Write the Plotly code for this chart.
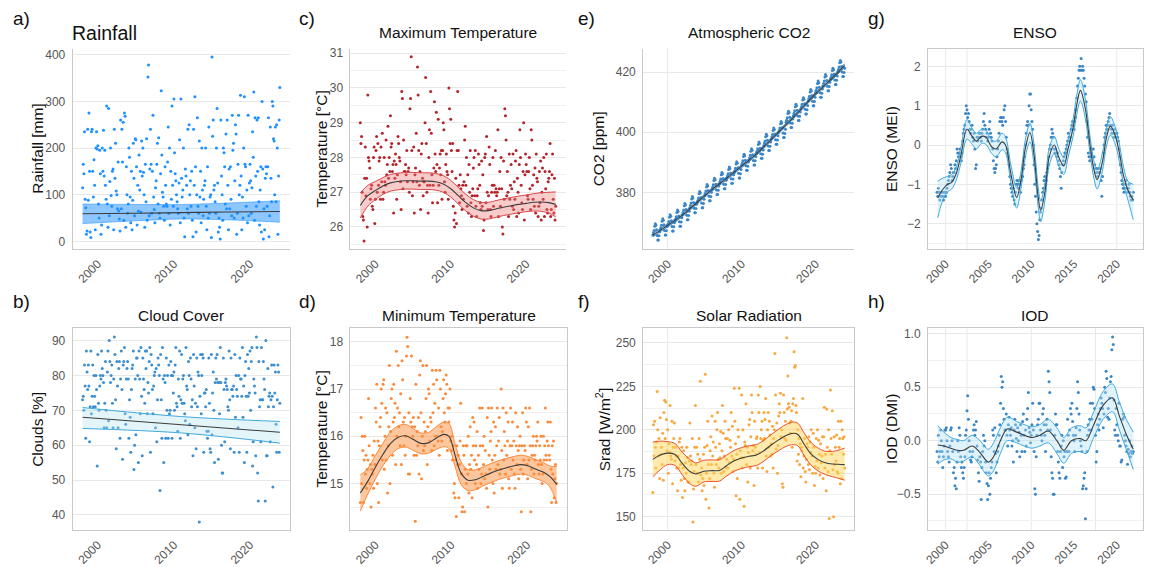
import plotly.graph_objects as go

W, H = 1149, 567
FONT = "Liberation Sans, Arial, sans-serif"

# ---------------------------------------------------------------- data
MONTHLY_START = 1998          # panels a-f: Jan 1998 .. Dec 2023
INDEX_START = 1999            # panels g-h: Jan 1999 .. Dec 2021

RAIN_BY_YEAR = [
    [115,165,145,235,90,72,15,22,240,88,275,150],
    [20,8,235,240,150,95,175,120,25,200,235,198],
    [205,80,50,195,145,15,35,200,150,238,140,195],
    [120,90,290,80,30,285,55,128,200,98,75,150],
    [155,25,240,135,210,108,100,70,170,65,48,22],
    [260,70,240,170,255,45,275,268,30,160,100,60],
    [80,200,180,95,40,150,25,88,210,135,55,220],
    [218,160,35,120,65,185,110,150,63,215,140,200],
    [148,100,30,165,85,220,45,352,378,55,155,240],
    [165,60,150,270,95,68,40,115,130,165,210,80],
    [222,60,50,145,323,185,105,95,75,45,160,120],
    [80,75,170,245,60,200,35,150,90,290,120,75],
    [305,190,145,130,100,85,70,60,125,218,40,305],
    [135,95,110,200,50,10,155,140,120,70,240,60],
    [250,100,130,75,150,45,10,240,120,310,160,20],
    [100,265,75,60,215,95,150,40,200,110,55,90],
    [120,130,200,75,25,160,50,245,60,95,100,8],
    [395,225,260,110,120,85,60,200,285,125,20,50],
    [30,5,260,140,100,45,200,190,160,80,230,70],
    [260,120,25,155,70,160,90,55,270,195,210,50],
    [130,250,230,15,60,165,270,100,120,313,140,25],
    [95,50,200,310,165,160,75,110,40,270,55,125],
    [165,130,60,115,235,180,320,45,265,140,75,260],
    [150,265,85,35,110,160,20,300,155,5,70,25],
    [135,160,145,75,160,265,10,55,245,135,85,300],
    [290,220,215,100,245,85,250,200,15,140,260,330],
]
RAIN_FIT_YEARS = [1998.0, 2005.0, 2011.0, 2017.0, 2023.92]
RAIN_FIT = [59, 60.2, 61.5, 62.8, 64]
RAIN_LO = [38, 44, 48, 46, 41]
RAIN_HI = [80, 79, 79, 82, 87]

CLOUD_BY_YEAR = [
    [73,74,70,83,77,62,87,81,76,83,77,61],
    [71,87,69,74,83,71,80,74,71,80,76,54],
    [86,72,70,77,80,79,87,82,80,78,65,72],
    [84,70,65,81,87,67,90,84,78,80,83,72],
    [65,79,91,86,73,59,84,77,65,82,84,62],
    [79,87,76,56,83,84,88,69,66,79,82,84],
    [79,62,73,68,58,76,82,83,87,53,60,79],
    [63,85,85,80,55,87,79,69,88,74,57,85],
    [79,76,72,87,82,87,69,78,75,84,88,58],
    [86,83,76,69,77,80,81,65,82,61,73,85],
    [83,80,47,86,73,62,88,79,55,80,78,62],
    [85,70,80,62,83,69,70,84,80,62,80,75],
    [81,70,83,88,72,71,64,79,74,87,62,73],
    [86,72,79,80,72,69,67,88,77,76,63,84],
    [80,66,85,79,71,73,57,86,77,65,72,59],
    [85,71,81,80,38,74,86,69,80,86,85,58],
    [75,75,71,76,64,62,64,85,72,59,58,86],
    [63,75,81,70,55,78,85,79,86,78,56,78],
    [69,88,78,60,52,52,85,76,61,78,79,77],
    [76,71,70,87,73,59,85,76,76,74,77,58],
    [86,68,80,76,74,65,80,58,85,79,79,74],
    [88,68,77,55,80,84,74,58,86,74,82,75],
    [87,70,84,88,54,61,79,77,75,57,91,88],
    [52,44,84,71,73,61,88,73,73,84,79,76],
    [44,90,57,57,82,71,74,75,61,73,83,74],
    [48,71,83,75,81,66,58,73,83,81,58,72],
]
CLOUD_FIT_YEARS = [1998.0, 2011.0, 2023.92]
CLOUD_FIT = [68.0, 65.85, 63.7]
CLOUD_LO = [64.8, 63.5, 60.6]
CLOUD_HI = [70.8, 68.2, 66.8]

TMAX_BY_YEAR = [
    [29.0,28.4,28.6,27.0,26.3,26.2,25.6,27.4,28.3,26.9,27.4,26.0],
    [29.8,28.0,27.9,27.7,26.8,27.1,27.2,26.6,26.5,28.0,28.3,26.1],
    [26.8,28.2,28.6,27.0,28.4,27.2,27.9,28.0,26.8,28.3,27.3,28.7],
    [26.8,27.0,28.0,27.3,27.2,28.5,27.5,27.8,28.9,27.4,28.0,27.6],
    [29.2,28.3,28.4,27.6,27.8,26.4,27.9,27.4,28.1,27.8,26.8,27.5],
    [28.6,28.4,28.0,27.9,27.3,26.5,29.9,29.7,27.1,28.5,27.6,27.6],
    [27.8,27.5,28.2,27.3,27.6,27.7,27.0,29.4,29.7,30.9,28.2,26.9],
    [27.3,28.3,26.4,27.5,27.7,28.7,27.3,30.6,29.8,28.2,27.2,27.6],
    [26.5,28.1,28.4,27.4,26.9,27.3,27.3,29.0,30.3,28.4,27.0,27.2],
    [26.4,28.0,28.8,27.2,29.9,28.7,27.5,26.7,27.2,27.7,29.6,28.1],
    [27.6,29.3,27.8,26.7,29.1,27.2,27.7,28.1,27.5,28.2,26.8,28.2],
    [29.0,28.8,27.3,27.0,27.8,28.1,27.6,27.5,26.8,30.0,29.4,28.4],
    [29.1,28.2,27.6,28.4,26.6,26.2,26.0,26.4,27.4,26.1,28.2,29.9],
    [28.2,27.2,26.7,27.5,27.1,26.9,26.5,27.2,26.8,27.3,28.5,28.9],
    [27.2,28.0,26.6,27.5,26.4,27.8,27.0,28.2,26.7,26.3,26.9,27.1],
    [27.7,28.0,26.9,28.2,26.6,26.3,26.9,27.1,28.1,27.8,27.2,26.7],
    [26.5,27.9,26.6,27.5,25.9,26.2,28.0,28.1,26.7,28.6,27.0,26.5],
    [26.9,28.3,27.8,26.5,26.3,27.0,27.2,28.0,26.6,27.2,27.0,28.2],
    [27.1,26.9,27.0,28.8,26.3,27.1,27.6,26.6,28.0,27.1,26.0,25.8],
    [27.9,26.8,29.4,29.2,28.5,26.9,27.6,27.0,26.3,28.1,26.8,27.2],
    [27.8,27.1,26.6,28.1,26.5,27.3,26.8,27.9,28.2,26.3,27.4,27.0],
    [26.4,27.8,28.8,28.0,27.2,26.7,26.5,27.6,29.0,26.2,27.5,28.1],
    [27.8,27.6,26.9,26.8,27.6,28.0,27.1,26.5,28.8,28.5,27.2,26.8],
    [27.5,26.6,27.7,26.4,28.1,27.4,27.3,26.3,26.6,27.6,26.7,27.9],
    [26.2,27.0,27.7,26.8,28.0,26.3,27.6,27.1,28.1,26.5,26.4,27.3],
    [27.4,27.6,28.4,26.3,26.5,27.5,28.1,26.8,26.4,27.4,26.2,26.6],
]
TMAX_FIT_YEARS = [1998.0,1999,2000,2001,2002,2003,2004,2005,2006,2007,2008,2009,2010,
                  2011,2012,2013,2014,2015,2016,2017,2018,2019,2020,2021,2022,2023,2023.92]
TMAX_FIT = [26.62,26.9,27.05,27.18,27.27,27.31,27.33,27.33,27.32,27.32,27.3,27.24,27.1,
            26.9,26.7,26.55,26.47,26.47,26.52,26.57,26.61,26.65,26.68,26.71,26.72,26.7,26.65]
TMAX_LO = [26.26,26.6,26.79,26.94,27.03,27.07,27.09,27.09,27.08,27.08,27.06,27.0,26.86,
           26.66,26.46,26.31,26.23,26.23,26.28,26.33,26.37,26.41,26.44,26.46,26.45,26.4,26.29]
TMAX_HI = [26.98,27.2,27.31,27.42,27.51,27.55,27.57,27.57,27.56,27.56,27.54,27.48,27.34,
           27.14,26.94,26.79,26.71,26.71,26.76,26.81,26.85,26.89,26.92,26.96,26.99,27.0,27.01]

TMIN_BY_YEAR = [
    [14.6,16.4,15.0,16.0,15.7,14.6,15.5,16.0,15.2,15.6,14.9,15.3],
    [15.5,16.8,15.8,15.0,15.4,14.5,15.3,15.2,15.6,14.9,15.9,15.4],
    [16.6,16.3,17.1,15.0,15.9,14.6,15.8,16.2,16.4,17.0,16.7,15.5],
    [17.1,17.2,15.3,16.0,16.6,15.5,16.5,14.8,15.8,16.2,17.5,15.0],
    [16.1,16.8,17.0,15.6,16.3,17.1,16.4,16.7,15.4,17.8,16.0,16.6],
    [17.5,16.2,16.5,15.8,16.9,15.4,17.6,17.2,16.3,15.8,16.4,15.6],
    [16.0,17.7,18.1,17.9,15.2,16.5,15.2,16.8,16.3,17.7,16.2,16.0],
    [16.4,15.6,16.2,14.2,17.1,15.6,16.1,15.8,16.4,15.2,17.3,17.6],
    [16.5,15.1,16.0,17.5,15.7,16.3,15.8,16.1,16.8,17.5,15.4,16.2],
    [17.0,16.9,15.9,16.4,16.3,15.7,17.4,16.5,17.1,15.8,16.7,16.0],
    [17.4,17.2,16.0,15.9,16.6,15.6,17.4,17.0,16.2,15.9,16.1,16.8],
    [17.2,16.5,16.3,16.9,17.3,17.1,15.7,16.6,16.3,16.6,17.0,15.9],
    [15.7,16.0,15.5,15.8,14.8,15.0,14.7,15.5,14.3,15.8,15.4,15.6],
    [14.7,15.4,15.9,16.7,15.2,14.4,14.5,15.8,15.6,14.4,15.3,15.8],
    [15.0,15.8,15.2,16.0,14.8,15.4,16.2,15.3,15.6,14.7,16.4,15.8],
    [16.3,15.5,15.0,15.8,15.4,16.1,14.9,15.6,15.3,16.6,15.8,15.0],
    [15.2,16.6,15.8,15.4,16.0,15.1,15.7,15.2,14.9,16.4,14.5,16.6],
    [15.6,15.3,15.9,16.1,16.6,15.5,15.0,16.3,14.8,15.6,16.2,15.3],
    [15.8,16.6,15.4,15.9,16.4,15.2,15.3,17.0,15.7,14.9,16.6,15.5],
    [16.1,15.8,15.2,16.5,15.6,15.9,16.3,15.1,14.9,15.8,16.6,15.3],
    [15.8,16.3,15.5,15.9,15.2,14.9,16.5,15.8,15.4,16.2,15.7,15.1],
    [15.8,16.0,15.3,14.4,15.8,16.5,15.2,15.5,15.8,15.7,16.6,16.3],
    [15.4,15.1,16.2,15.5,16.6,15.8,14.4,15.3,15.6,15.8,16.0,15.2],
    [15.6,15.5,15.8,16.0,15.9,16.3,15.4,15.2,15.8,15.5,16.0,15.4],
    [15.0,15.2,16.0,15.5,15.8,16.6,15.6,15.5,15.9,16.3,15.8,15.6],
    [15.5,16.3,15.3,14.6,15.8,15.2,15.9,14.7,15.1,15.4,14.6,15.0],
]
TMIN_FIT_YEARS = [1998.0,1999,2000,2001,2002,2003,2004,2005,2006,2007,2008,2009,2009.7,2010.5,
                  2011.3,2012.2,2013.2,2014.2,2015.2,2016.2,2017.2,2018.2,2019.2,2020.2,2021.2,
                  2022.2,2023.0,2023.92]
TMIN_FIT = [14.8,15.05,15.35,15.62,15.85,15.98,16.01,15.93,15.85,15.86,15.96,16.04,16.0,15.6,
            15.22,15.07,15.08,15.15,15.22,15.28,15.33,15.37,15.4,15.37,15.3,15.24,15.15,14.98]
TMIN_LO = [14.42,14.78,15.1,15.38,15.6,15.74,15.77,15.7,15.63,15.64,15.72,15.78,15.74,15.36,
           14.98,14.85,14.87,14.95,15.02,15.08,15.13,15.17,15.2,15.17,15.1,15.04,14.93,14.6]
TMIN_HI = [15.18,15.32,15.6,15.86,16.1,16.22,16.25,16.16,16.07,16.08,16.2,16.3,16.27,15.84,
           15.46,15.29,15.29,15.35,15.42,15.48,15.53,15.57,15.6,15.57,15.5,15.44,15.37,15.36]

CO2_BY_YEAR = [
    [365.8,366.5,367.3,368.7,369.5,369.0,367.5,365.6,364.1,364.1,365.5,366.9],
    [367.5,368.2,369.0,370.4,371.2,370.7,369.2,367.3,365.8,365.8,367.2,368.6],
    [368.8,369.5,370.3,371.7,372.5,372.0,370.5,368.6,367.1,367.1,368.5,369.9],
    [370.4,371.1,371.9,373.3,374.1,373.6,372.1,370.2,368.7,368.7,370.1,371.5],
    [372.6,373.3,374.1,375.5,376.3,375.8,374.3,372.4,370.9,370.9,372.3,373.7],
    [374.9,375.6,376.4,377.8,378.6,378.1,376.6,374.7,373.2,373.2,374.6,376.0],
    [376.6,377.3,378.1,379.5,380.3,379.8,378.3,376.4,374.9,374.9,376.3,377.7],
    [378.9,379.6,380.4,381.8,382.6,382.1,380.6,378.7,377.2,377.2,378.6,380.0],
    [381.0,381.7,382.5,383.9,384.7,384.2,382.7,380.8,379.3,379.3,380.7,382.1],
    [382.9,383.6,384.4,385.8,386.6,386.1,384.6,382.7,381.2,381.2,382.6,384.0],
    [384.7,385.4,386.2,387.6,388.4,387.9,386.4,384.5,383.0,383.0,384.4,385.8],
    [386.5,387.2,388.0,389.4,390.2,389.7,388.2,386.3,384.8,384.8,386.2,387.6],
    [389.0,389.7,390.5,391.9,392.7,392.2,390.7,388.8,387.3,387.3,388.7,390.1],
    [390.8,391.5,392.3,393.7,394.5,394.0,392.5,390.6,389.1,389.1,390.5,391.9],
    [393.0,393.7,394.5,395.9,396.7,396.2,394.7,392.8,391.3,391.3,392.7,394.1],
    [395.6,396.3,397.1,398.5,399.3,398.8,397.3,395.4,393.9,393.9,395.3,396.7],
    [397.7,398.4,399.2,400.6,401.4,400.9,399.4,397.5,396.0,396.0,397.4,398.8],
    [399.9,400.6,401.4,402.8,403.6,403.1,401.6,399.7,398.2,398.2,399.6,401.0],
    [403.3,404.0,404.8,406.2,407.0,406.5,405.0,403.1,401.6,401.6,403.0,404.4],
    [405.6,406.3,407.1,408.5,409.3,408.8,407.3,405.4,403.9,403.9,405.3,406.7],
    [407.8,408.5,409.3,410.7,411.5,411.0,409.5,407.6,406.1,406.1,407.5,408.9],
    [410.5,411.2,412.0,413.4,414.2,413.7,412.2,410.3,408.8,408.8,410.2,411.6],
    [413.3,414.0,414.8,416.2,417.0,416.5,415.0,413.1,411.6,411.6,413.0,414.4],
    [415.5,416.2,417.0,418.4,419.2,418.7,417.2,415.3,413.8,413.8,415.2,416.6],
    [417.6,418.3,419.1,420.5,421.3,420.8,419.3,417.4,415.9,415.9,417.3,418.7],
    [420.2,420.9,421.7,423.1,423.9,423.4,421.9,420.0,418.5,418.5,419.9,421.3],
]
CO2_FIT_YEARS = [1998.0,2000,2002,2004,2006,2008,2010,2012,2014,2016,2018,2020,2022,2023.92]
CO2_FIT = [365.7,369.0,372.4,376.7,380.9,384.7,388.7,392.8,397.6,402.5,407.6,412.8,417.4,422.2]
CO2_LO = [365.2,368.5,371.9,376.2,380.4,384.2,388.2,392.3,397.1,402.0,407.1,412.3,416.9,421.6]
CO2_HI = [366.3,369.5,372.9,377.2,381.4,385.2,389.2,393.3,398.1,403.0,408.1,413.3,417.9,422.8]

SRAD_BY_YEAR = [
    [164,203,185,205,190,178,193,222,200,185,195,172],
    [207,186,190,180,198,171,210,217,195,216,206,188],
    [200,175,192,187,214,185,183,205,169,190,195,204],
    [182,190,185,178,165,185,178,193,195,180,171,190],
    [161,178,188,172,165,181,175,190,184,170,170,182],
    [204,185,180,182,195,147,166,176,190,214,180,190],
    [175,186,170,195,183,228,174,178,165,172,186,168],
    [190,232,160,175,191,205,180,155,172,188,196,180],
    [208,185,193,175,167,205,190,180,200,210,183,178],
    [192,184,199,175,188,214,198,176,185,205,195,178],
    [183,195,178,200,181,194,190,210,185,202,176,183],
    [224,205,192,162,186,172,200,196,224,160,188,184],
    [220,178,200,184,156,193,191,215,180,190,170,187],
    [203,206,178,196,220,210,188,191,168,205,190,186],
    [195,196,178,220,210,187,225,195,200,205,178,194],
    [210,195,206,218,185,176,200,210,190,205,197,185],
    [192,186,202,178,195,200,244,220,189,204,175,191],
    [208,215,210,221,196,200,169,167,220,210,195,205],
    [194,253,212,231,215,213,204,198,205,211,190,215],
    [218,245,236,237,214,210,182,200,186,195,180,192],
    [173,190,188,218,178,185,195,176,170,183,192,190],
    [180,196,177,193,187,200,185,175,198,190,168,179],
    [175,195,182,200,178,194,186,174,192,181,185,196],
    [172,196,213,178,186,165,212,190,176,200,149,188],
    [223,195,186,211,177,150,196,180,190,182,197,176],
    [175,205,190,195,169,205,172,200,195,186,196,178],
]
SRAD_FIT_YEARS = [1998.0,1999,2000,2001,2002,2003,2003.8,2004.9,2006,2007,2008,2009,2010,2011,
                  2012,2013,2014,2015,2016,2017,2017.6,2018.4,2019.3,2020.3,2021.3,2022.3,2023,
                  2023.92]
SRAD_FIT = [183,185.5,186.6,185.8,180.5,176,174.6,176.2,176.5,176.6,179.5,182.2,183.8,184.8,
            185.5,188,191.3,194.2,196.8,198,197.3,192,186.5,183,181,180.3,180.2,180]
SRAD_LO = [173,177,180,179.5,174,169,167.5,170,170.3,170.5,173.5,176.2,177.8,178.8,
           179.5,182,185.3,188,190.5,191.5,190.8,185.5,180,176.4,174.3,173,172.2,171]
SRAD_HI = [193,193.5,193.2,192.1,187,183,181,182.5,182.7,182.8,185.5,188.2,189.8,190.8,
           191.5,194,197.3,200.4,203.1,204.5,203.8,198.5,193,189.6,187.7,187.6,188.2,189.5]

ENSO_BY_YEAR = [
    [-1.2,-1.3,-1.1,-1.2,-1.4,-1.3,-1.2,-1.3,-1.2,-1.4,-1.3,-1.2],
    [-1.3,-1.2,-1.1,-1.0,-0.9,-0.8,-0.7,-0.5,-0.6,-0.9,-0.8,-0.7],
    [-0.7,-0.5,-0.6,-0.4,-0.1,-0.2,-0.3,-0.2,-0.1,-0.3,-0.4,-0.2],
    [0.1,0.3,0.4,0.5,0.8,1.0,0.9,0.7,0.8,0.6,0.4,0.3],
    [0.4,0.5,0.2,0.1,0.3,-0.1,-0.6,-0.5,0.2,0.1,0.2,0.3],
    [0.3,0.2,0.1,0.3,0.4,0.6,0.8,0.5,0.4,0.2,0.3,0.1],
    [0.2,0.4,0.6,0.3,0.2,0.1,-0.1,-0.4,-0.6,-0.7,-0.6,-0.5],
    [-0.3,-0.1,0.1,0.3,0.6,0.7,0.7,0.6,0.5,0.7,0.9,1.0],
    [0.6,0.2,-0.1,-0.2,-0.3,-0.5,-0.8,-1.0,-1.1,-1.2,-1.3,-1.1],
    [-1.4,-1.5,-1.2,-1.0,-0.9,-1.0,-1.1,-0.9,-1.0,-1.2,-0.9,-0.8],
    [-0.8,-0.6,-0.5,-0.3,0.0,0.3,0.5,0.6,0.5,1.0,1.3,1.3],
    [0.9,0.6,0.4,0.0,-0.5,-1.0,-1.3,-1.7,-2.0,-2.2,-2.4,-2.3],
    [-1.9,-1.7,-1.6,-1.4,-1.2,-1.1,-0.9,-0.8,-1.0,-0.9,-0.7,-0.6],
    [-0.5,-0.3,-0.1,0.0,0.2,0.4,0.3,0.2,-0.1,-0.2,-0.1,-0.2],
    [-0.3,-0.2,-0.4,-0.5,-0.6,-0.8,-1.1,-0.7,-0.5,-0.4,-0.3,-0.2],
    [-0.2,-0.1,0.0,0.1,0.3,0.2,0.1,0.2,0.4,0.5,0.6,0.5],
    [0.4,0.6,0.7,0.9,1.2,1.5,1.7,1.9,2.0,1.9,2.2,1.9],
    [2.0,1.9,1.7,1.5,1.3,1.1,0.6,0.2,-0.2,-0.3,-0.4,-0.3],
    [-0.2,-0.1,-0.3,-0.1,-0.3,-0.5,-0.6,-0.7,-0.6,-0.8,-0.7,-0.6],
    [-0.7,-0.6,-0.9,-1.3,-0.8,-0.2,0.0,0.2,0.3,0.5,0.4,0.5],
    [0.6,0.7,0.8,0.5,0.4,0.3,0.5,0.3,0.2,0.4,0.3,0.2],
    [0.3,0.2,0.1,-0.1,-0.3,-0.5,-0.7,-0.9,-1.0,-1.1,-1.2,-1.1],
    [-1.0,-0.9,-1.1,-1.2,-1.1,-1.0,-1.2,-1.3,-1.4,-1.3,-1.4,-1.2],
]
ENSO_FIT_YEARS = [1999.08,1999.6,2000.2,2000.7,2001.2,2001.8,2002.5,2003.1,2003.6,2004.2,2004.7,
                  2005.4,2005.9,2006.6,2007.0,2007.6,2008.3,2008.8,2009.3,2009.85,2010.3,2010.8,
                  2011.1,2011.6,2012.1,2012.7,2013.2,2013.8,2014.3,2014.9,2015.3,2015.75,2016.3,
                  2016.9,2017.3,2017.7,2018.3,2018.8,2019.25,2019.8,2020.3,2020.8,2021.3,2021.92]
ENSO_FIT = [-1.35,-1.15,-1.0,-0.95,-0.75,-0.25,0.4,0.22,0.1,0.22,0.2,-0.05,-0.1,0.08,0.0,-0.7,
            -1.33,-0.9,-0.1,0.32,-0.2,-1.3,-1.66,-1.2,-0.3,0.0,-0.3,-0.53,-0.1,0.45,1.0,1.39,
            0.95,-0.05,-0.6,-0.88,-0.45,0.2,0.48,0.25,-0.2,-0.8,-1.15,-1.4]
ENSO_LO = [-1.85,-1.45,-1.2,-1.12,-0.92,-0.45,0.15,0.02,-0.1,0.04,0.02,-0.22,-0.3,-0.12,-0.2,
           -0.92,-1.6,-1.12,-0.32,0.08,-0.45,-1.55,-1.95,-1.42,-0.52,-0.22,-0.52,-0.75,-0.32,
           0.23,0.76,1.12,0.7,-0.27,-0.82,-1.12,-0.68,-0.02,0.25,0.03,-0.42,-1.02,-1.4,-1.9]
ENSO_HI = [-0.92,-0.85,-0.8,-0.75,-0.58,-0.05,0.65,0.42,0.3,0.4,0.38,0.12,0.1,0.3,0.2,-0.48,
           -1.08,-0.68,0.12,0.56,0.05,-1.05,-1.42,-0.98,-0.08,0.22,-0.08,-0.31,0.12,0.67,1.24,
           1.66,1.2,0.17,-0.38,-0.64,-0.22,0.42,0.72,0.47,0.02,-0.58,-0.92,-1.0]

IOD_BY_YEAR = [
    [-0.1,-0.2,0.05,-0.15,-0.1,0.1,0.0,-0.1,-0.25,-0.15,-0.05,0.1],
    [0.1,0.12,0.0,-0.1,-0.15,-0.2,-0.05,0.1,0.12,0.0,-0.1,-0.3],
    [-0.25,-0.42,-0.35,-0.45,-0.2,0.0,-0.1,0.12,0.05,-0.15,-0.25,-0.2],
    [-0.3,-0.35,-0.25,-0.15,0.05,0.1,0.28,0.42,0.2,0.0,-0.1,-0.18],
    [-0.2,-0.15,-0.1,0.1,0.15,0.05,0.1,0.18,-0.05,-0.18,-0.3,-0.38],
    [-0.15,-0.2,-0.55,-0.25,-0.1,0.05,-0.05,0.0,-0.2,-0.3,-0.4,-0.55],
    [-0.42,-0.3,-0.5,-0.35,-0.25,-0.2,0.1,0.05,-0.1,0.12,-0.12,-0.3],
    [-0.2,-0.1,-0.05,0.05,0.15,0.35,0.6,0.5,0.55,0.3,0.2,0.1],
    [0.1,0.25,0.05,-0.05,0.15,0.22,0.1,0.05,0.12,-0.05,0.0,-0.2],
    [0.1,0.2,0.15,0.02,-0.1,0.12,0.0,0.08,-0.15,0.15,0.05,-0.1],
    [0.18,0.25,0.05,-0.1,0.1,-0.05,0.2,0.3,0.45,0.12,0.08,-0.02],
    [0.05,0.15,0.35,0.1,-0.1,-0.45,-0.5,-0.15,0.05,0.15,0.2,0.35],
    [0.35,0.1,0.05,0.0,0.25,0.3,0.15,0.05,-0.1,0.15,0.2,0.1],
    [0.65,0.55,0.45,0.1,-0.15,-0.3,-0.35,-0.5,-0.5,0.05,0.25,0.15],
    [0.15,-0.1,-0.2,-0.3,-0.35,-0.1,-0.05,0.05,-0.25,0.0,-0.15,-0.1],
    [-0.35,-0.34,-0.1,0.2,0.05,-0.1,0.1,0.3,0.25,0.35,0.18,0.05],
    [0.0,-0.1,0.05,0.12,0.3,0.55,0.45,0.25,0.1,0.0,-0.05,-0.1],
    [-0.45,-0.42,-0.35,-0.3,-0.73,-0.45,-0.1,0.05,0.15,0.1,0.2,0.35],
    [0.1,0.2,0.35,0.5,0.48,0.3,0.05,-0.2,-0.1,0.15,0.25,0.1],
    [0.2,0.3,0.4,0.35,0.3,0.12,0.25,0.5,0.45,0.65,0.58,0.22],
    [0.3,0.2,0.4,0.55,0.6,0.85,0.97,0.9,0.38,0.1,0.05,0.3],
    [0.15,0.05,0.0,0.35,-0.05,-0.05,-0.2,-0.18,0.2,0.25,0.22,0.05],
    [0.0,-0.05,-0.1,-0.22,-0.08,-0.12,0.0,-0.15,-0.1,-0.05,-0.12,-0.1],
]
IOD_FIT_YEARS = [1999.08,1999.8,2000.6,2001.4,2002.1,2003.1,2003.9,2005.0,2005.6,2006.4,2007.2,
                 2008.3,2009.2,2010.1,2011.0,2012.0,2013.0,2013.8,2014.7,2015.7,2016.4,2017.3,
                 2018.4,2019.5,2020.3,2021.1,2021.92]
IOD_FIT = [-0.04,-0.05,-0.07,-0.09,-0.09,-0.05,-0.1,-0.2,-0.15,0.0,0.11,0.08,0.05,0.03,0.05,
           0.09,0.0,-0.09,0.0,0.02,0.0,0.15,0.33,0.4,0.23,0.06,-0.08]
IOD_LO = [-0.22,-0.18,-0.17,-0.2,-0.19,-0.15,-0.22,-0.33,-0.28,-0.12,0.0,-0.02,-0.05,-0.07,
          -0.05,-0.02,-0.12,-0.21,-0.12,-0.1,-0.12,0.03,0.2,0.27,0.1,-0.08,-0.27]
IOD_HI = [0.14,0.08,0.03,0.01,0.0,0.05,0.01,-0.08,-0.02,0.12,0.22,0.18,0.15,0.13,0.15,0.2,
          0.12,0.03,0.12,0.14,0.12,0.27,0.46,0.53,0.36,0.2,0.08]

TICKS_LONG = [2000, 2010, 2020]
TICKS_INDEX = [2000, 2005, 2010, 2015, 2020]

# ---------------------------------------------------------------- helpers
def flat(rows):
    return [v for r in rows for v in r]


def month_x(start, n):
    return [start + i / 12 for i in range(n)]


GRID = "#e8e8e8"
AXL = "#c9c9c9"
TICKC = "#555555"

panels = [
    dict(k=1, tag="a)", title="Rainfall", ytitle="Rainfall [mm]", box=(68, 286, 47, 249),
         xr=(1996.7, 2025.22), yr=(-17, 413), dtick=100, minor=None, fmt="",
         data=RAIN_BY_YEAR, start=MONTHLY_START, fit=(RAIN_FIT_YEARS, RAIN_FIT, RAIN_LO, RAIN_HI),
         pt="#1e90ff", fill="rgba(30,144,255,0.5)", edge="rgba(30,144,255,0.55)",
         shape="spline", mirror=False, ticks=TICKS_LONG, ytx=33, vgrid=[]),
    dict(k=2, tag="b)", title="Cloud Cover", ytitle="Clouds [%]", box=(68, 286, 328, 532),
         xr=(1996.7, 2025.22), yr=(35.6, 93.7), dtick=10, minor=None, fmt="",
         data=CLOUD_BY_YEAR, start=MONTHLY_START, fit=(CLOUD_FIT_YEARS, CLOUD_FIT, CLOUD_LO, CLOUD_HI),
         pt="#3d8fcf", fill="rgba(178,226,242,0.35)", edge="#3fa9dc",
         shape="spline", mirror=True, ticks=TICKS_LONG, ytx=33, vgrid=[]),
    dict(k=3, tag="c)", title="Maximum Temperature", ytitle="Temperature [°C]", box=(347, 563, 47, 249),
         xr=(1996.7, 2025.22), yr=(25.36, 31.13), dtick=1, minor=0.5, fmt="",
         data=TMAX_BY_YEAR, start=MONTHLY_START, fit=(TMAX_FIT_YEARS, TMAX_FIT, TMAX_LO, TMAX_HI),
         pt="#b3252b", fill="rgba(240,120,120,0.38)", edge="#d9474a",
         shape="spline", mirror=False, ticks=TICKS_LONG, ytx=318, vgrid=[]),
    dict(k=4, tag="d)", title="Minimum Temperature", ytitle="Temperature [°C]", box=(347, 564, 328, 532),
         xr=(1996.7, 2025.22), yr=(14.01, 18.3), dtick=1, minor=0.5, fmt="",
         data=TMIN_BY_YEAR, start=MONTHLY_START, fit=(TMIN_FIT_YEARS, TMIN_FIT, TMIN_LO, TMIN_HI),
         pt="#fb8a3c", fill="rgba(252,141,60,0.5)", edge="#fb8a3c",
         shape="spline", mirror=True, ticks=TICKS_LONG, ytx=318, vgrid=[]),
    dict(k=5, tag="e)", title="Atmospheric CO2", ytitle="CO2 [ppm]", box=(641, 853, 47, 249),
         xr=(1996.7, 2025.22), yr=(361.05, 427.8), dtick=20, minor=None, fmt="",
         data=CO2_BY_YEAR, start=MONTHLY_START, fit=(CO2_FIT_YEARS, CO2_FIT, CO2_LO, CO2_HI),
         pt="#3a86c6", fill="rgba(58,134,198,0.25)", edge="#3a86c6",
         shape="spline", mirror=False, ticks=TICKS_LONG, ytx=597, vgrid=[2000]),
    dict(k=6, tag="f)", title="Solar Radiation", ytitle="Srad [W/m<sup>2</sup>]", box=(641, 853, 328, 532),
         xr=(1996.7, 2025.22), yr=(142.2, 258.8), dtick=25, minor=12.5, fmt="",
         data=SRAD_BY_YEAR, start=MONTHLY_START, fit=(SRAD_FIT_YEARS, SRAD_FIT, SRAD_LO, SRAD_HI),
         pt="#f9a73e", fill="rgba(253,214,90,0.5)", edge="#ee4f2b",
         shape="spline", mirror=True, ticks=TICKS_LONG, ytx=601, vgrid=[2000]),
    dict(k=7, tag="g)", title="ENSO", ytitle="ENSO (MEI)", box=(927, 1143, 47, 249),
         xr=(1997.94, 2023.06), yr=(-2.65, 2.45), dtick=1, minor=0.5, fmt="",
         data=ENSO_BY_YEAR, start=INDEX_START, fit=(ENSO_FIT_YEARS, ENSO_FIT, ENSO_LO, ENSO_HI),
         pt="#3a86c6", fill="rgba(178,226,242,0.4)", edge="#3fa9dc",
         shape="spline", mirror=True, ticks=TICKS_INDEX, ytx=891, vgrid=[2000, 2002.5, 2020]),
    dict(k=8, tag="h)", title="IOD", ytitle="IOD (DMI)", box=(927, 1143, 328, 532),
         xr=(1997.94, 2023.06), yr=(-0.837, 1.056), dtick=0.5, minor=0.25, fmt=".1f",
         data=IOD_BY_YEAR, start=INDEX_START, fit=(IOD_FIT_YEARS, IOD_FIT, IOD_LO, IOD_HI),
         pt="#3a86c6", fill="rgba(178,226,242,0.4)", edge="#3fa9dc",
         shape="spline", mirror=True, ticks=TICKS_INDEX, ytx=891, vgrid=[2000, 2002.5, 2010, 2017.5]),
]

fig = go.Figure()
annotations = []
shapes = []
layout = dict(
    width=W, height=H, margin=dict(l=0, r=0, t=0, b=0),
    paper_bgcolor="white", plot_bgcolor="white", showlegend=False,
    font=dict(family=FONT, color="#222222"),
)

for p in panels:
    k = p["k"]
    xa, ya = ("x" if k == 1 else f"x{k}"), ("y" if k == 1 else f"y{k}")
    l, r, t, b = p["box"]
    vals = flat(p["data"])
    xs = month_x(p["start"], len(vals))
    fy, ff, flo, fhi = p["fit"]

    fig.add_trace(go.Scatter(x=xs, y=vals, mode="markers", xaxis=xa, yaxis=ya,
                             marker=dict(size=3.0, color=p["pt"], line=dict(width=0)),
                             hoverinfo="skip"))
    fig.add_trace(go.Scatter(x=fy, y=flo, mode="lines", xaxis=xa, yaxis=ya,
                             line=dict(color=p["edge"], width=1, shape=p["shape"]),
                             hoverinfo="skip"))
    fig.add_trace(go.Scatter(x=fy, y=fhi, mode="lines", xaxis=xa, yaxis=ya, fill="tonexty",
                             fillcolor=p["fill"],
                             line=dict(color=p["edge"], width=1, shape=p["shape"]),
                             hoverinfo="skip"))
    fig.add_trace(go.Scatter(x=fy, y=ff, mode="lines", xaxis=xa, yaxis=ya,
                             line=dict(color="#3c3c3c", width=1.1, shape=p["shape"]),
                             hoverinfo="skip"))

    xkey = "xaxis" if k == 1 else f"xaxis{k}"
    ykey = "yaxis" if k == 1 else f"yaxis{k}"
    layout[xkey] = dict(
        domain=[l / W, r / W], range=list(p["xr"]), anchor=ya,
        tickmode="array", tickvals=p["ticks"], ticktext=[str(v) for v in p["ticks"]],
        tickangle=-45, tickfont=dict(size=12, color=TICKC, family=FONT),
        showgrid=False, zeroline=False, showline=True, linecolor=AXL, linewidth=1,
        mirror=p["mirror"], ticks="", ticklabelstandoff=2,
    )
    ydict = dict(
        domain=[1 - b / H, 1 - t / H], range=list(p["yr"]), anchor=xa,
        dtick=p["dtick"], tickfont=dict(size=12, color=TICKC, family=FONT),
        showgrid=True, gridcolor=GRID, gridwidth=1, zeroline=False,
        showline=True, linecolor=AXL, linewidth=1, mirror=p["mirror"], ticks="",
        ticklabelstandoff=4,
    )
    if p["fmt"]:
        ydict["tickformat"] = p["fmt"]
    if p["minor"]:
        ydict["minor"] = dict(dtick=p["minor"], showgrid=True, gridcolor="#f0f0f0", ticks="")
    layout[ykey] = ydict

    for xv in p["vgrid"]:
        shapes.append(dict(type="line", xref=xa, yref=f"{ya} domain", x0=xv, x1=xv, y0=0, y1=1,
                           line=dict(color=GRID, width=1), layer="below"))

    # panel letter
    top_row = t < 200
    letter_x = {1: 6, 2: 6, 3: 293, 4: 293, 5: 573, 6: 573, 7: 865, 8: 865}[k]
    annotations.append(dict(text=p["tag"], x=letter_x / W, y=1 - (16.5 if top_row else 301.5) / H,
                            xref="paper", yref="paper", xanchor="left", yanchor="middle",
                            showarrow=False, font=dict(size=19, color="#111111", family=FONT)))
    # title
    if k == 1:
        annotations.append(dict(text=p["title"], x=(l - 3) / W, y=1 - 31 / H, xref="paper", yref="paper",
                                xanchor="left", yanchor="middle", showarrow=False,
                                font=dict(size=19.5, color="#111111", family=FONT)))
    else:
        ty = 30.5 if top_row else 315.5
        annotations.append(dict(text=p["title"], x=(l + r) / 2 / W, y=1 - ty / H,
                                xref="paper", yref="paper", xanchor="center", yanchor="middle",
                                showarrow=False, font=dict(size=15.5, color="#111111", family=FONT)))
    # y-axis title
    annotations.append(dict(text=p["ytitle"], x=p["ytx"] / W, y=1 - (t + b) / 2 / H,
                            xref="paper", yref="paper", xanchor="center", yanchor="middle",
                            textangle=-90, showarrow=False,
                            font=dict(size=15.5, color="#111111", family=FONT)))

layout["annotations"] = annotations
layout["shapes"] = shapes
fig.update_layout(**layout)
fig.write_html("out.html")
